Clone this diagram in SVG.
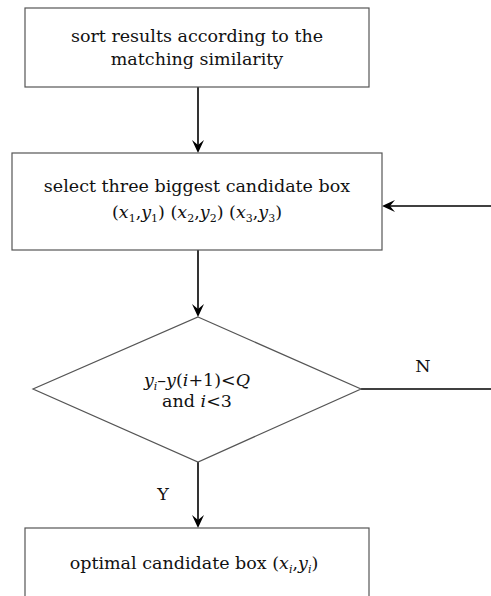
<svg xmlns="http://www.w3.org/2000/svg" width="491" height="596" viewBox="0 0 491 596">
<style>
.box{fill:#fff;stroke:#555;stroke-width:1.2}
.t{font-family:"DejaVu Serif",serif;font-size:17.5px;fill:#111;text-anchor:middle}
.i{font-style:italic}
.s{font-size:11px}
.c{stroke:#000;stroke-width:1.6;fill:none}
.h{fill:#000}
</style>
<rect width="491" height="596" fill="#fff"/>
<g id="connectors">
<line class="c" x1="198" y1="87" x2="198" y2="145"/>
<path class="h" d="M192,140 L198,153 L204,140 L198,145 Z"/>
<line class="c" x1="198" y1="250" x2="198" y2="309"/>
<path class="h" d="M192,304 L198,317 L204,304 L198,309 Z"/>
<line class="c" x1="361" y1="389" x2="491" y2="389"/>
<line class="c" x1="491" y1="206" x2="390" y2="206"/>
<path class="h" d="M395,200 L382,206 L395,212 L390,206 Z"/>
<line class="c" x1="198" y1="462" x2="198" y2="520"/>
<path class="h" d="M192,515 L198,528 L204,515 L198,520 Z"/>
<text class="t" x="423" y="372">N</text>
<text class="t" x="163" y="500">Y</text>
</g>
<g id="sort">
<rect class="box" x="25" y="8" width="344" height="79"/>
<text class="t" x="197" y="42">sort results according to the</text>
<text class="t" x="197" y="65">matching similarity</text>
</g>
<g id="select">
<rect class="box" x="12" y="153" width="370" height="97"/>
<text class="t" x="197" y="192">select three biggest candidate box</text>
<text class="t" x="197" y="218">(<tspan class="i">x</tspan><tspan class="s" dy="4">1</tspan><tspan dy="-4">,</tspan><tspan class="i">y</tspan><tspan class="s" dy="4">1</tspan><tspan dy="-4">) (</tspan><tspan class="i">x</tspan><tspan class="s" dy="4">2</tspan><tspan dy="-4">,</tspan><tspan class="i">y</tspan><tspan class="s" dy="4">2</tspan><tspan dy="-4">) (</tspan><tspan class="i">x</tspan><tspan class="s" dy="4">3</tspan><tspan dy="-4">,</tspan><tspan class="i">y</tspan><tspan class="s" dy="4">3</tspan><tspan dy="-4">)</tspan></text>
</g>
<g id="decision">
<polygon class="box" points="198,317 361,389 198,462 33,389"/>
<text class="t" x="197" y="386"><tspan class="i">y</tspan><tspan class="s i" dy="4">i</tspan><tspan dy="-4">–</tspan><tspan class="i">y</tspan>(<tspan class="i">i</tspan>+1)&lt;<tspan class="i">Q</tspan></text>
<text class="t" x="197" y="407">and <tspan class="i">i</tspan>&lt;3</text>
</g>
<g id="optimal">
<rect class="box" x="25" y="528" width="344" height="80"/>
<text class="t" x="194" y="569">optimal candidate box (<tspan class="i">x</tspan><tspan class="s i" dy="4">i</tspan><tspan dy="-4">,</tspan><tspan class="i">y</tspan><tspan class="s i" dy="4">i</tspan><tspan dy="-4">)</tspan></text>
</g>
</svg>
